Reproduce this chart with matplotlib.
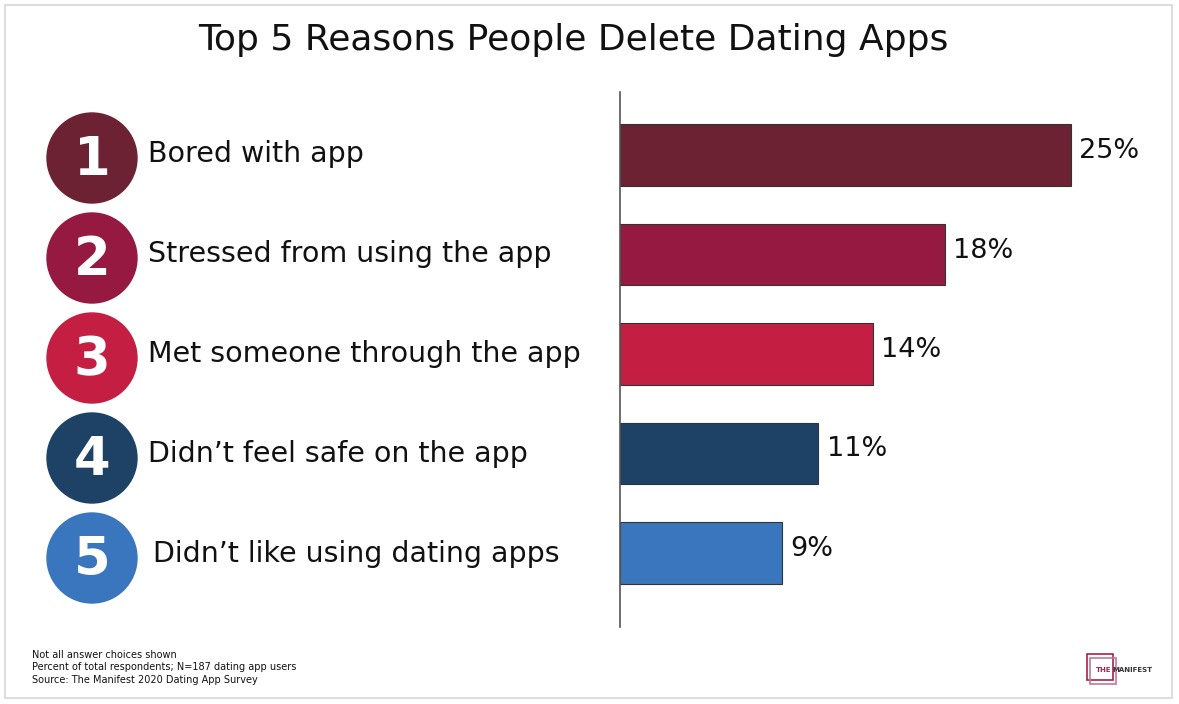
import matplotlib.pyplot as plt
from matplotlib.patches import Circle, Rectangle

reasons = ['Bored with app', 'Stressed from using the app', 'Met someone through the app',
           "Didn\u2019t feel safe on the app", "Didn\u2019t like using dating apps"]
ranks = ['1', '2', '3', '4', '5']
percents = [25, 18, 14, 11, 9]
colors = ['#6d2234', '#951940', '#c41e42', '#1e4166', '#3a76bd']
notes = ['Not all answer choices shown',
         'Percent of total respondents; N=187 dating app users',
         'Source: The Manifest 2020 Dating App Survey']

W, H = 1179, 704
fig = plt.figure(figsize=(W / 100, H / 100), dpi=100)
fig.patch.set_facecolor('white')

# overlay axes in pixel coords for circles, labels, border
ov = fig.add_axes([0, 0, 1, 1])
ov.set_xlim(0, W)
ov.set_ylim(H, 0)
ov.axis('off')
ov.add_patch(Rectangle((5, 5), 1167, 693, fill=False, edgecolor='#dddddd', lw=1.5))

ov.text(573, 40, 'Top 5 Reasons People Delete Dating Apps', ha='center', va='center',
        fontsize=26, color='#111111', family='DejaVu Sans')

for i, (r, lab, c) in enumerate(zip(ranks, reasons, colors)):
    cy = 158 + 100 * i
    ov.add_patch(Circle((92, cy), 45, color=c))
    ov.text(92, cy + 2, r, ha='center', va='center', fontsize=38, fontweight='heavy',
            color='white', family='DejaVu Sans')
    x0 = 153 if i == 4 else 148
    ov.text(x0, cy - 4, lab, ha='left', va='center', fontsize=20.5, color='#111111',
            family='DejaVu Sans')

for j, n in enumerate(notes):
    ov.text(32, 655 + 12.5 * j, n, ha='left', va='center', fontsize=7, color='#111111')

# logo
ov.add_patch(Rectangle((1087, 654), 26, 26, fill=False, edgecolor='#a3224a', lw=1.2))
ov.add_patch(Rectangle((1090, 658), 26, 26, fill=False, edgecolor='#c27a90', lw=1.2))
ov.text(1096, 670, 'THE', fontsize=5, fontweight='bold', color='#a3224a', va='center')
ov.text(1112, 670, 'MANIFEST', fontsize=5, fontweight='bold', color='#333333', va='center')

# bar axes
left, right, top, bottom = 620, 1170, 92, 627
ax = fig.add_axes([left / W, 1 - bottom / H, (right - left) / W, (bottom - top) / H])
ax.set_facecolor('none')
ypos = list(range(len(percents)))
ax.barh(ypos, percents, height=0.62, color=colors, edgecolor='#333333', linewidth=0.8)
ax.set_xlim(0, (right - left) / 18.04)
ax.set_ylim(4.744, -0.633)
for y, v in zip(ypos, percents):
    ax.text(v + 0.45, y - 0.04, f'{v}%', ha='left', va='center', fontsize=19.5, color='#111111')
for s in ['top', 'right', 'bottom']:
    ax.spines[s].set_visible(False)
ax.spines['left'].set_color('#555555')
ax.spines['left'].set_linewidth(1.2)
ax.set_xticks([])
ax.set_yticks([])

fig.savefig('out.png', dpi=100)
